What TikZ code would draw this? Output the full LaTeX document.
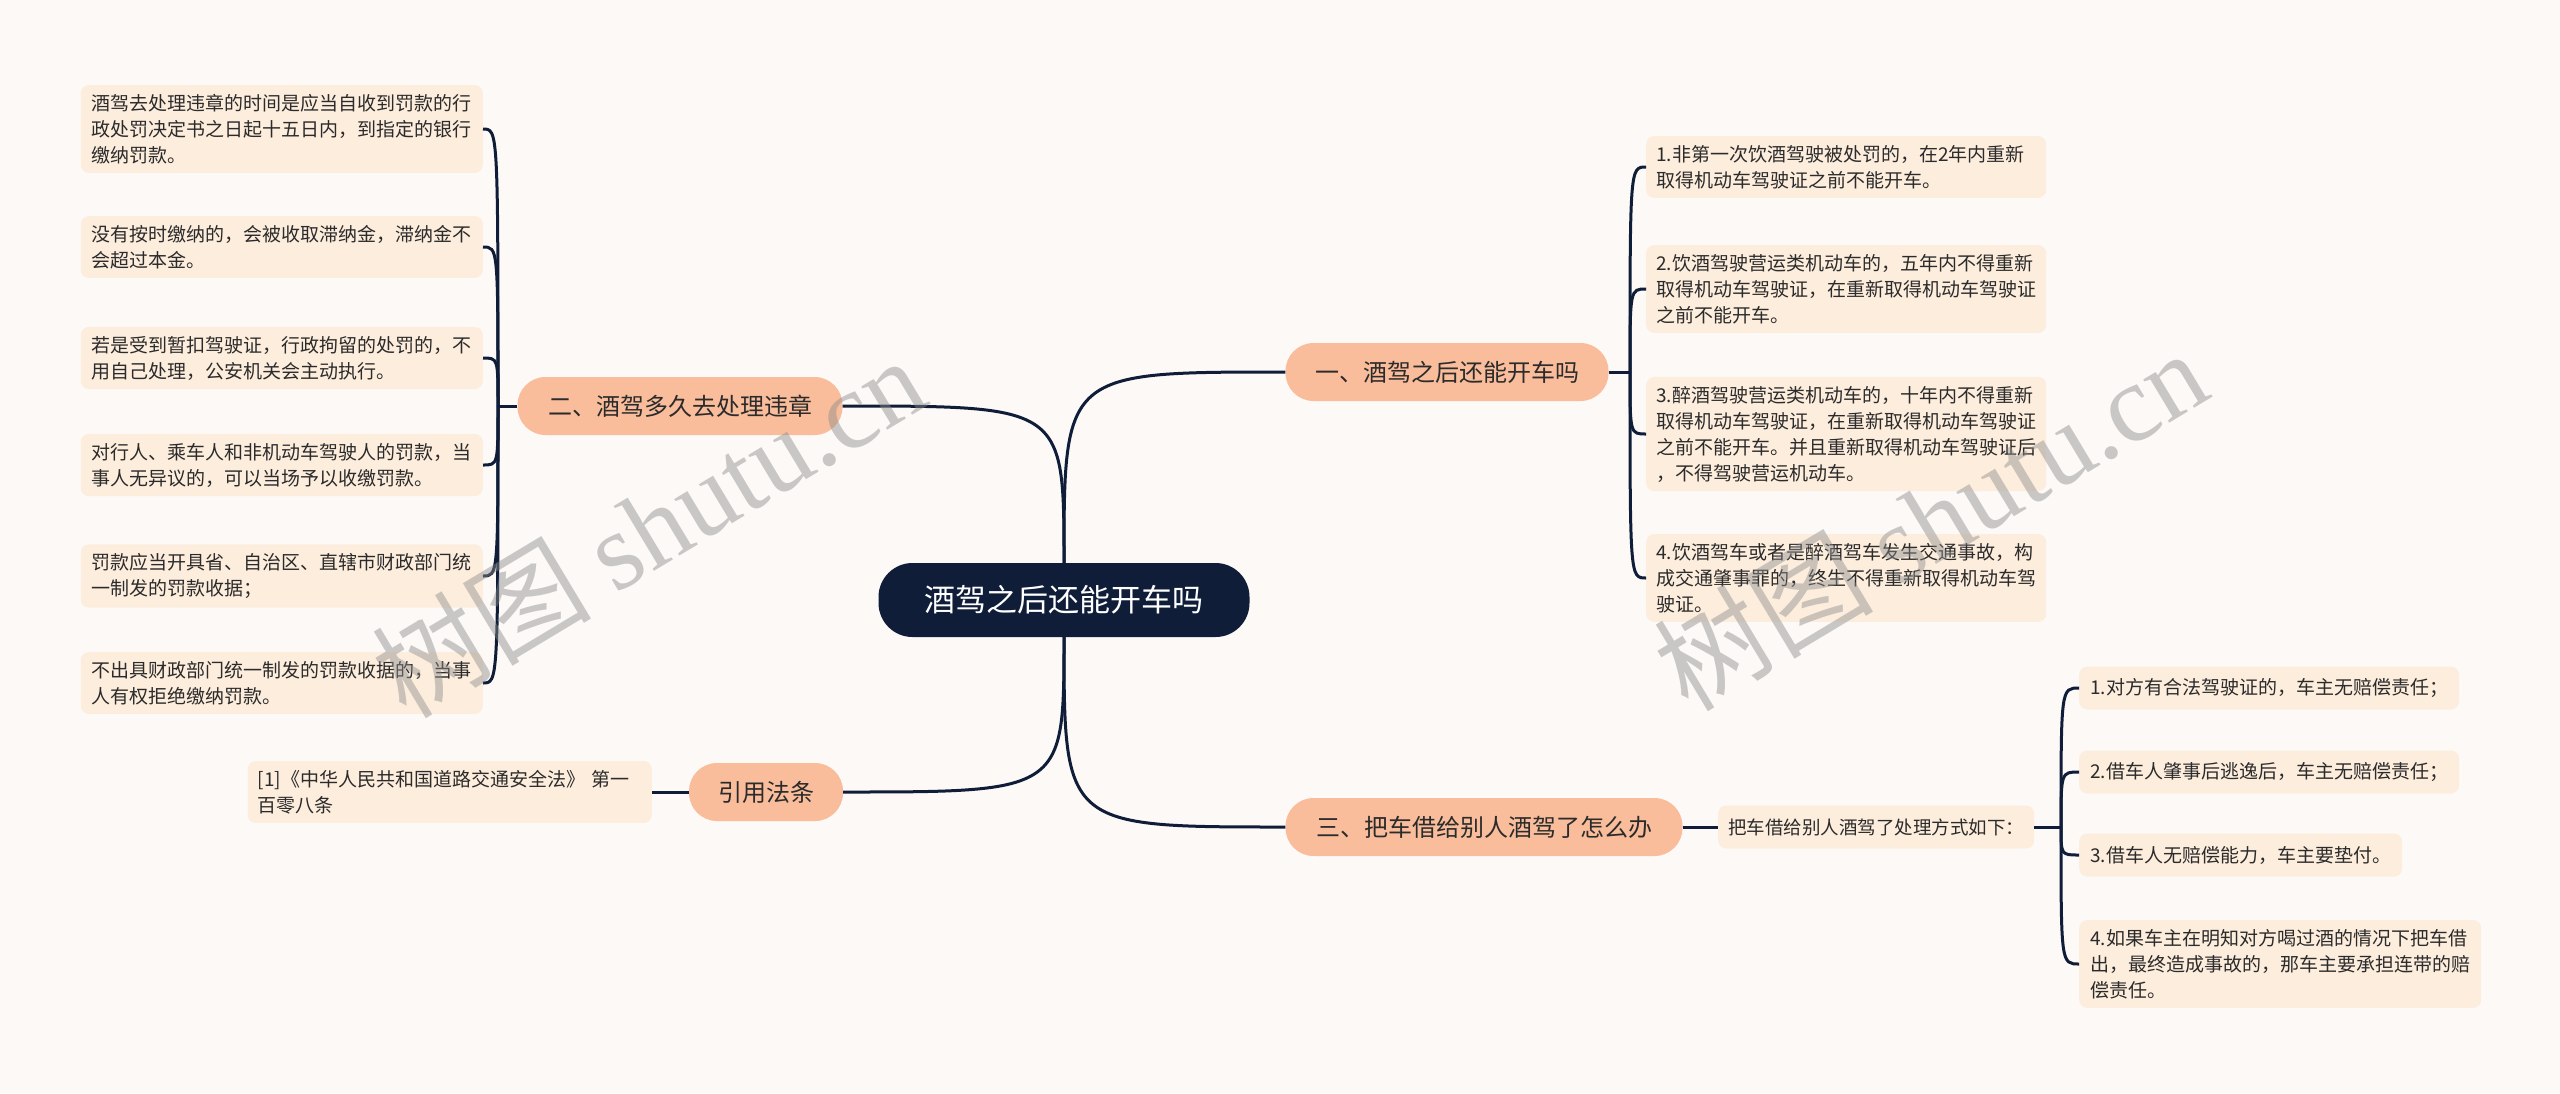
\documentclass[tikz,border=0pt]{standalone}
\usepackage{fontspec}
\setmainfont{Noto Sans CJK SC}
\newfontfamily\wmserif{Liberation Serif}
\usetikzlibrary{calc}
\definecolor{bg}{HTML}{FCF9F7}
\definecolor{navy}{HTML}{0F1D38}
\definecolor{salmon}{HTML}{F9BD9B}
\definecolor{peach}{HTML}{FDEDDD}
\definecolor{txt}{HTML}{2B2B2B}
\tikzset{
  conn/.style={draw=navy, line width=3pt},
  rootbox/.style={fill=navy, text=white, rounded corners=34pt, minimum width=371pt, minimum height=74pt, font=\fontsize{31}{31}\selectfont, inner sep=0pt},
  branchbox/.style={fill=salmon, text=txt, rounded corners=28pt, minimum height=58pt, font=\fontsize{24}{24}\selectfont, inner sep=0pt},
  leafbox/.style={fill=peach, text=txt, rounded corners=8pt, align=left, font=\fontsize{19}{26}\selectfont, inner xsep=11pt, inner ysep=9pt},
  wideleaf/.style={leafbox, text width=380pt, inner xsep=10pt},
  onebox/.style={leafbox, minimum height=43pt},
  wmark/.style={text=black!45, opacity=0.45, rotate=31, font=\fontsize{110}{110}\selectfont},
}
\begin{document}
\begin{tikzpicture}[x=1pt,y=-1pt]
\fill[bg] (0,0) rectangle (2560,1093);
\useasboundingbox (0,0) rectangle (2560,1093);

% root and branches
\node[rootbox] (root) at (1064,600) {酒驾之后还能开车吗};
\node[branchbox, minimum width=323pt] (b1) at (1447,372) {一、酒驾之后还能开车吗};
\node[branchbox, minimum width=325pt] (b2) at (680,406) {二、酒驾多久去处理违章};
\node[branchbox, minimum width=397pt] (b3) at (1484,827) {三、把车借给别人酒驾了怎么办};
\node[branchbox, minimum width=154pt] (b4) at (766,792) {引用法条};

% left leaves
\node[leafbox, anchor=east] (L1) at (483,129) {酒驾去处理违章的时间是应当自收到罚款的行\\政处罚决定书之日起十五日内，到指定的银行\\缴纳罚款。};
\node[leafbox, anchor=east] (L2) at (483,247) {没有按时缴纳的，会被收取滞纳金，滞纳金不\\会超过本金。};
\node[leafbox, anchor=east] (L3) at (483,358) {若是受到暂扣驾驶证，行政拘留的处罚的，不\\用自己处理，公安机关会主动执行。};
\node[leafbox, anchor=east] (L4) at (483,465) {对行人、乘车人和非机动车驾驶人的罚款，当\\事人无异议的，可以当场予以收缴罚款。};
\node[leafbox, anchor=east] (L5) at (483,576) {罚款应当开具省、自治区、直辖市财政部门统\\一制发的罚款收据；};
\node[leafbox, anchor=east] (L6) at (483,683) {不出具财政部门统一制发的罚款收据的，当事\\人有权拒绝缴纳罚款。};

% right leaves
\node[wideleaf, anchor=west] (R1) at (1646,167) {1.非第一次饮酒驾驶被处罚的，在2年内重新\\取得机动车驾驶证之前不能开车。};
\node[wideleaf, anchor=west] (R2) at (1646,289) {2.饮酒驾驶营运类机动车的，五年内不得重新\\取得机动车驾驶证，在重新取得机动车驾驶证\\之前不能开车。};
\node[wideleaf, anchor=west] (R3) at (1646,434) {3.醉酒驾驶营运类机动车的，十年内不得重新\\取得机动车驾驶证，在重新取得机动车驾驶证\\之前不能开车。并且重新取得机动车驾驶证后\\，不得驾驶营运机动车。};
\node[wideleaf, anchor=west] (R4) at (1646,578) {4.饮酒驾车或者是醉酒驾车发生交通事故，构\\成交通肇事罪的，终生不得重新取得机动车驾\\驶证。};

% branch 3 subtree
\node[onebox, anchor=west, font=\fontsize{18.5}{26}\selectfont, inner xsep=10pt] (I) at (1718,827) {把车借给别人酒驾了处理方式如下：};
\node[onebox, anchor=west] (C1) at (2079,688) {1.对方有合法驾驶证的，车主无赔偿责任；};
\node[onebox, anchor=west] (C2) at (2079,772) {2.借车人肇事后逃逸后，车主无赔偿责任；};
\node[onebox, anchor=west] (C3) at (2079,855) {3.借车人无赔偿能力，车主要垫付。};
\node[leafbox, anchor=west] (C4) at (2079,964) {4.如果车主在明知对方喝过酒的情况下把车借\\出，最终造成事故的，那车主要承担连带的赔\\偿责任。};

% branch 4 leaf
\node[leafbox, anchor=east, text width=384pt, inner xsep=10pt] (ref) at (652,792) {[1]《中华人民共和国道路交通安全法》 第一\\百零八条};

% connectors root -> branches
\draw[conn] (root.north) .. controls (root.north |- b1.west) .. (b1.west);
\draw[conn] (root.north) .. controls (root.north |- b2.east) .. (b2.east);
\draw[conn] (root.south) .. controls (root.south |- b3.west) .. (b3.west);
\draw[conn] (root.south) .. controls (root.south |- b4.east) .. (b4.east);

% branch 1 -> right leaves
\coordinate (s1) at (1630,372);
\draw[conn] (b1.east) -- (s1);
\foreach \n in {R1,R2,R3,R4}
  \draw[conn] (s1) .. controls (s1 |- \n.west) and (s1 |- \n.west) .. (\n.west);

% branch 2 -> left leaves
\coordinate (s2) at (498,406);
\draw[conn] (b2.west) -- (s2);
\foreach \n in {L1,L2,L3,L4,L5,L6}
  \draw[conn] (s2) .. controls (s2 |- \n.east) and (s2 |- \n.east) .. (\n.east);

% branch 3 -> intermediate -> children
\draw[conn] (b3.east) -- (I.west);
\coordinate (s3) at (2061,827);
\draw[conn] (I.east) -- (s3);
\foreach \n in {C1,C2,C3,C4}
  \draw[conn] (s3) .. controls (s3 |- \n.west) and (s3 |- \n.west) .. (\n.west);

% branch 4 -> reference
\draw[conn] (b4.west) -- (ref.east);

% watermarks
\node[wmark] (wm1) at (648,526) {树图 {\wmserif shutu.cn}};
\node[wmark] (wm2) at (1930,519) {树图 {\wmserif shutu.cn}};
\end{tikzpicture}
\end{document}
